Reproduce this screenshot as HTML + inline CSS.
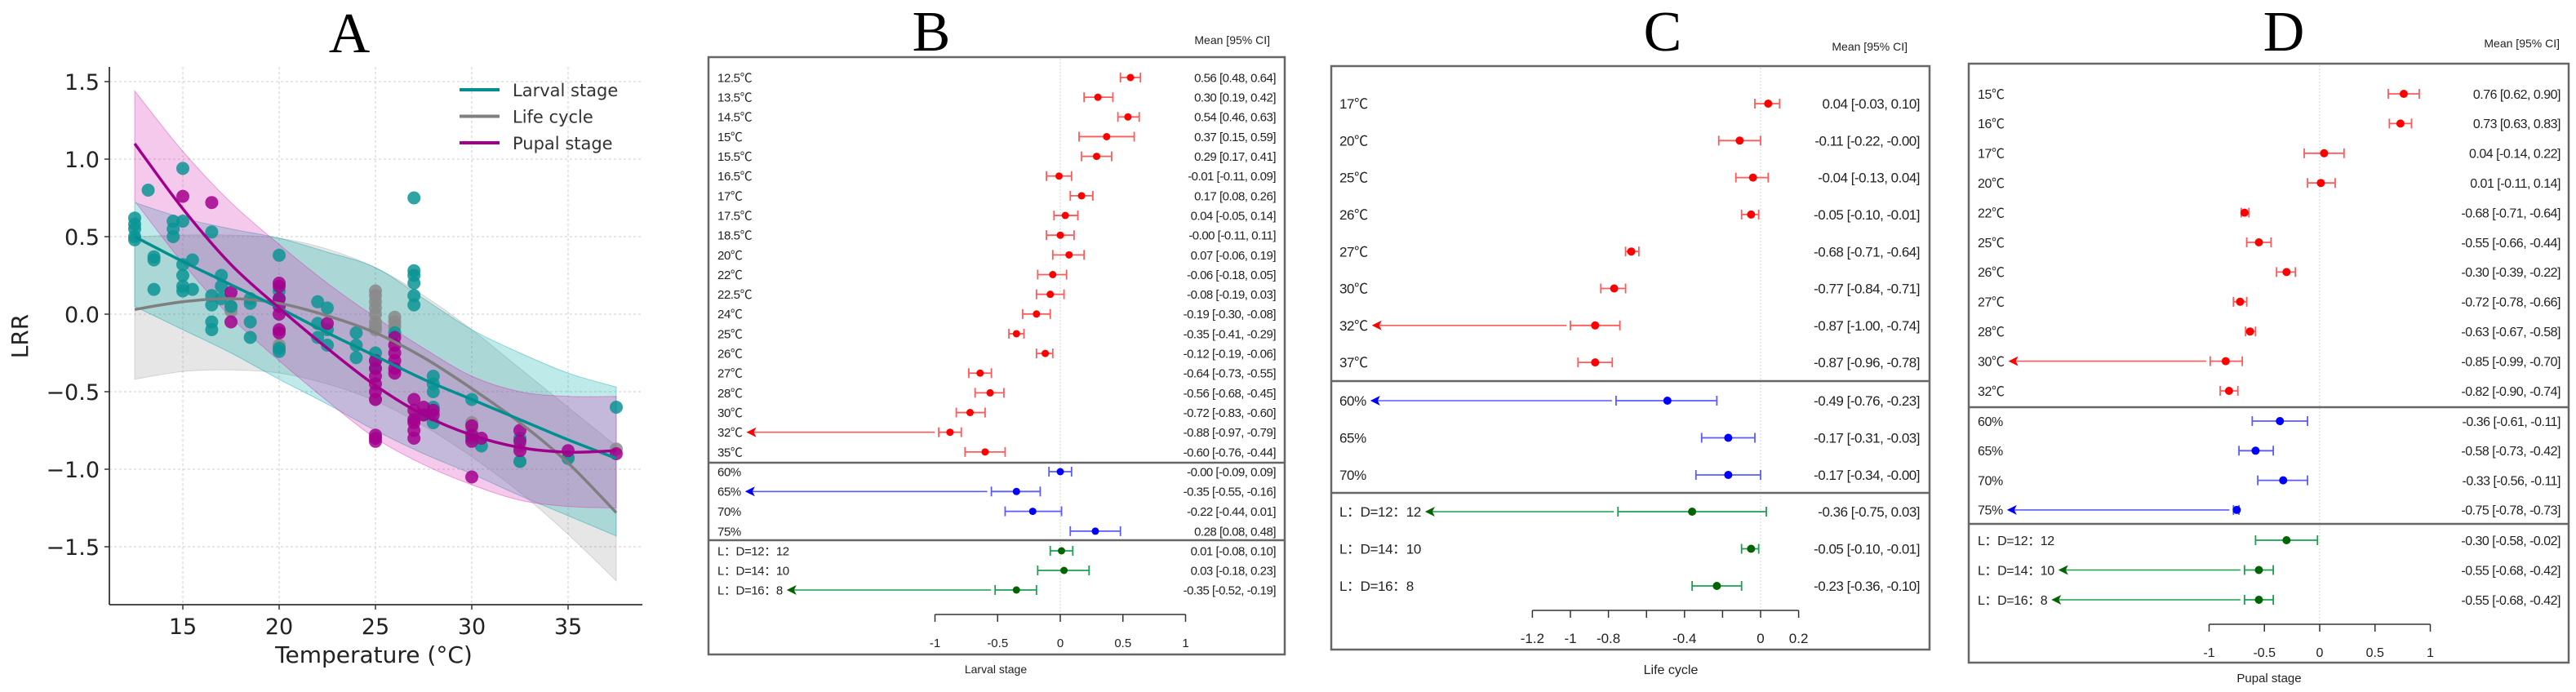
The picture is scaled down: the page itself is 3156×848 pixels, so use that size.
<!DOCTYPE html>
<html><head><meta charset="utf-8"><style>
html,body{margin:0;padding:0;background:#fff;}
svg{display:block;}
</style></head><body>
<svg id="fig" width="3156" height="848" viewBox="0 0 3156 848" xmlns="http://www.w3.org/2000/svg">
<g id="panelA"></g>
<g id="panelB"></g>
<g id="panelC"></g>
<g id="panelD"></g>
</svg>
<script>
// ---------- Panel A data ----------
const aXTicks = [15, 20, 25, 30, 35];
const aYTicks = [1.5, 1.0, 0.5, 0.0, -0.5, -1.0, -1.5];
const aYTickLabels = ["1.5", "1.0", "0.5", "0.0", "\u22120.5", "\u22121.0", "\u22121.5"];
const curveTemps = [12.5, 15, 17.5, 20, 22.5, 25, 27.5, 30, 32.5, 35, 37.5];
const larvalFit = [0.5, 0.34, 0.19, 0.04, -0.12, -0.27, -0.42, -0.55, -0.68, -0.81, -0.93];
const larvalUpper = [0.72, 0.62, 0.55, 0.49, 0.4, 0.3, 0.1, -0.1, -0.25, -0.38, -0.47];
const larvalLower = [0.05, -0.1, -0.25, -0.42, -0.58, -0.75, -0.9, -1.03, -1.17, -1.3, -1.43];
const lifeFit = [0.03, 0.08, 0.1, 0.07, -0.01, -0.12, -0.28, -0.48, -0.7, -0.96, -1.28];
const lifeUpper = [0.5, 0.51, 0.51, 0.49, 0.42, 0.3, 0.12, -0.1, -0.35, -0.6, -0.85];
const lifeLower = [-0.42, -0.37, -0.36, -0.38, -0.45, -0.56, -0.72, -0.92, -1.15, -1.42, -1.72];
const pupalFit = [1.1, 0.68, 0.32, 0.04, -0.22, -0.46, -0.65, -0.78, -0.86, -0.89, -0.88];
const pupalUpper = [1.44, 1.05, 0.72, 0.45, 0.2, -0.02, -0.22, -0.4, -0.5, -0.53, -0.53];
const pupalLower = [0.73, 0.33, -0.02, -0.3, -0.56, -0.8, -0.97, -1.1, -1.2, -1.24, -1.25];
const larvalPtT = [12.5,12.5,12.5,12.5,12.5,13.2,13.5,13.5,13.5,14.5,14.5,14.5,15,15,15,15,15,15,15.5,15.5,16.5,16.5,16.5,16.5,16.5,17,17,17,17.5,18.5,18.5,18.5,18.5,20,20,20,20,20,22,22,22,22.5,22.5,22.5,24,24,24,25,25,25,26,27,27,27,27,27,27,27.5,28,28,28,28,28,30,30,30.5,32.5,32.5,35,37.5];
const larvalPtV = [0.62,0.58,0.55,0.5,0.48,0.8,0.37,0.35,0.16,0.6,0.55,0.5,0.94,0.6,0.32,0.25,0.18,0.15,0.35,0.16,0.53,0.12,0.06,-0.05,-0.1,0.25,0.18,0.1,0.05,0.1,0.07,-0.05,-0.15,0.38,0.15,0.1,-0.22,-0.24,0.08,-0.06,-0.15,0.04,-0.1,-0.2,-0.12,-0.2,-0.28,-0.25,-0.3,-0.35,-0.12,0.75,0.28,0.25,0.2,0.12,0.06,-0.65,-0.4,-0.45,-0.5,-0.6,-0.7,-0.55,-0.8,-0.85,-0.8,-0.95,-0.93,-0.6];
const lifePtT = [17.5,17.5,20,25,25,25,25,25,25,25,25,25,26,26,26,27,30,30,32.5,32.5,35,37.5];
const lifePtV = [0.02,0.05,-0.2,0.15,0.12,0.08,0.04,0,-0.05,-0.08,-0.1,-0.55,-0.02,-0.05,-0.08,-0.68,-0.7,-0.75,-0.85,-0.95,-0.92,-0.87];
const pupalPtT = [15,16.5,17.5,17.5,20,20,20,20,20,20,20,22.5,25,25,25,25,25,25,25,25,25,26,26,26,26,26,26,27,27,27,27,27,27,27.5,27.5,28,28,30,30,30,30,30.5,32.5,32.5,32.5,35,37.5];
const pupalPtV = [0.76,0.72,0.14,-0.05,0.2,0.18,0.1,0.05,0,-0.1,-0.12,-0.06,-0.3,-0.35,-0.4,-0.45,-0.5,-0.55,-0.78,-0.8,-0.82,-0.15,-0.2,-0.25,-0.3,-0.35,-0.38,-0.55,-0.62,-0.68,-0.7,-0.75,-0.8,-0.6,-0.65,-0.62,-0.65,-0.72,-0.78,-0.82,-1.05,-0.8,-0.75,-0.82,-0.88,-0.88,-0.9];

// ---------- Panel B data ----------
const bLabels = ["12.5\u2103","13.5\u2103","14.5\u2103","15\u2103","15.5\u2103","16.5\u2103","17\u2103","17.5\u2103","18.5\u2103","20\u2103","22\u2103","22.5\u2103","24\u2103","25\u2103","26\u2103","27\u2103","28\u2103","30\u2103","32\u2103","35\u2103","60%","65%","70%","75%","L\uFF1AD=12\uFF1A12","L\uFF1AD=14\uFF1A10","L\uFF1AD=16\uFF1A8"];
const bMean = [0.56,0.30,0.54,0.37,0.29,-0.01,0.17,0.04,-0.00,0.07,-0.06,-0.08,-0.19,-0.35,-0.12,-0.64,-0.56,-0.72,-0.88,-0.60,-0.00,-0.35,-0.22,0.28,0.01,0.03,-0.35];
const bLow = [0.48,0.19,0.46,0.15,0.17,-0.11,0.08,-0.05,-0.11,-0.06,-0.18,-0.19,-0.30,-0.41,-0.19,-0.73,-0.68,-0.83,-0.97,-0.76,-0.09,-0.55,-0.44,0.08,-0.08,-0.18,-0.52];
const bHigh = [0.64,0.42,0.63,0.59,0.41,0.09,0.26,0.14,0.11,0.19,0.05,0.03,-0.08,-0.29,-0.06,-0.55,-0.45,-0.60,-0.79,-0.44,0.09,-0.16,0.01,0.48,0.10,0.23,-0.19];
const bGroup = [0,0,0,0,0,0,0,0,0,0,0,0,0,0,0,0,0,0,0,0,1,1,1,1,2,2,2];
const bArrow = [0,0,0,0,0,0,0,0,0,0,0,0,0,0,0,0,0,0,1,0,0,1,0,0,0,0,1];
const bTicks = [-1,-0.5,0,0.5,1];
const bTickLabels = ["-1","-0.5","0","0.5","1"];

// ---------- Panel C data ----------
const cLabels = ["17\u2103","20\u2103","25\u2103","26\u2103","27\u2103","30\u2103","32\u2103","37\u2103","60%","65%","70%","L\uFF1AD=12\uFF1A12","L\uFF1AD=14\uFF1A10","L\uFF1AD=16\uFF1A8"];
const cMean = [0.04,-0.11,-0.04,-0.05,-0.68,-0.77,-0.87,-0.87,-0.49,-0.17,-0.17,-0.36,-0.05,-0.23];
const cLow = [-0.03,-0.22,-0.13,-0.10,-0.71,-0.84,-1.00,-0.96,-0.76,-0.31,-0.34,-0.75,-0.10,-0.36];
const cHigh = [0.10,-0.00,0.04,-0.01,-0.64,-0.71,-0.74,-0.78,-0.23,-0.03,-0.00,0.03,-0.01,-0.10];
const cGroup = [0,0,0,0,0,0,0,0,1,1,1,2,2,2];
const cArrow = [0,0,0,0,0,0,1,0,1,0,0,1,0,0];
const cTicks = [-1.2,-1,-0.8,-0.6,-0.4,-0.2,0,0.2];
const cTickLabels = ["-1.2","-1","-0.8","","-0.4","","0","0.2"];

// ---------- Panel D data ----------
const dLabels = ["15\u2103","16\u2103","17\u2103","20\u2103","22\u2103","25\u2103","26\u2103","27\u2103","28\u2103","30\u2103","32\u2103","60%","65%","70%","75%","L\uFF1AD=12\uFF1A12","L\uFF1AD=14\uFF1A10","L\uFF1AD=16\uFF1A8"];
const dMean = [0.76,0.73,0.04,0.01,-0.68,-0.55,-0.30,-0.72,-0.63,-0.85,-0.82,-0.36,-0.58,-0.33,-0.75,-0.30,-0.55,-0.55];
const dLow = [0.62,0.63,-0.14,-0.11,-0.71,-0.66,-0.39,-0.78,-0.67,-0.99,-0.90,-0.61,-0.73,-0.56,-0.78,-0.58,-0.68,-0.68];
const dHigh = [0.90,0.83,0.22,0.14,-0.64,-0.44,-0.22,-0.66,-0.58,-0.70,-0.74,-0.11,-0.42,-0.11,-0.73,-0.02,-0.42,-0.42];
const dGroup = [0,0,0,0,0,0,0,0,0,0,0,1,1,1,1,2,2,2];
const dArrow = [0,0,0,0,0,0,0,0,0,1,0,0,0,0,1,0,1,1];
const dTicks = [-1,-0.5,0,0.5,1];
const dTickLabels = ["-1","-0.5","0","0.5","1"];

const NS = "http://www.w3.org/2000/svg";
function mk(tag, attrs, parent) {
  const e = document.createElementNS(NS, tag);
  for (const k in attrs) e.setAttribute(k, attrs[k]);
  parent.appendChild(e);
  return e;
}
function fmt(v){ let s=Math.abs(v).toFixed(2); return (v<0||Object.is(v,-0))?"-"+s:s; }

// ---------- Panel A ----------
(function(){
  const g = document.getElementById('panelA');
  const X = t => 224 + (t - 15) * 23.6;
  const Y = v => 385 - v * 190;
  const L = 134, R = 787, T = 82, B = 741;
  const title = mk('text', {x:428, y:64, 'text-anchor':'middle', 'font-family':'Liberation Serif, serif', 'font-size':70, fill:'#000'}, g);
  title.textContent = 'A';
  
  
  aXTicks.forEach(t => {
    const l = mk('line', {x1:X(t), x2:X(t), y1:T, y2:B, stroke:'#ccc', 'stroke-width':1, 'stroke-dasharray':'3,3'}, g);
    
    
    mk('line', {x1:X(t), x2:X(t), y1:B, y2:B+6, stroke:'#333', 'stroke-width':1.5}, g);
    const tx = mk('text', {x:X(t), y:B+36, 'text-anchor':'middle', 'font-family':'DejaVu Sans, sans-serif', 'font-size':27, fill:'#222'}, g);
    tx.textContent = String(t);
    
    
  });
  aYTicks.forEach((v,i) => {
    const l = mk('line', {x1:L, x2:R, y1:Y(v), y2:Y(v), stroke:'#ccc', 'stroke-width':1, 'stroke-dasharray':'3,3'}, g);
    
    
    mk('line', {x1:L-6, x2:L, y1:Y(v), y2:Y(v), stroke:'#333', 'stroke-width':1.5}, g);
    const tx = mk('text', {x:L-12, y:Y(v)+10, 'text-anchor':'end', 'font-family':'DejaVu Sans, sans-serif', 'font-size':27, fill:'#222'}, g);
    tx.textContent = aYTickLabels[i];
    
    
  });
  function smooth(xs, ys){
    const p = xs.map((t,i)=>[X(t),Y(ys[i])]);
    let d = 'M'+p[0][0]+','+p[0][1];
    for (let i=0;i<p.length-1;i++){
      const p0=p[Math.max(0,i-1)], p1=p[i], p2=p[i+1], p3=p[Math.min(p.length-1,i+2)];
      const c1=[p1[0]+(p2[0]-p0[0])/6, p1[1]+(p2[1]-p0[1])/6];
      const c2=[p2[0]-(p3[0]-p1[0])/6, p2[1]-(p3[1]-p1[1])/6];
      d+=' C'+c1[0]+','+c1[1]+' '+c2[0]+','+c2[1]+' '+p2[0]+','+p2[1];
    }
    return d;
  }
  function band(up, lo, fill, stroke, name){
    const top = smooth(curveTemps, up);
    const rt = curveTemps.slice().reverse(), rl = lo.slice().reverse();
    const bot = smooth(rt, rl).replace(/^M/, 'L');
    const p = mk('path', {d: top+' '+bot+' Z', fill: fill, stroke: stroke, 'stroke-width':1}, g);
    
    
  }
  band(lifeUpper, lifeLower, 'rgba(140,140,140,0.22)', 'rgba(140,140,140,0.3)', 'life-cycle-ci-band');
  band(larvalUpper, larvalLower, 'rgba(0,170,170,0.25)', 'rgba(0,160,160,0.4)', 'larval-ci-band');
  band(pupalUpper, pupalLower, 'rgba(215,40,175,0.25)', 'rgba(215,40,175,0.4)', 'pupal-ci-band');
  function pts(ts, vs, col, name){
    ts.forEach((t,i)=>{
      const c = mk('circle', {cx:X(t), cy:Y(vs[i]), r:8, fill:col, 'fill-opacity':0.85}, g);
      
      
    });
  }
  pts(lifePtT, lifePtV, '#8a8a8a', 'life-cycle-point');
  pts(larvalPtT, larvalPtV, '#0c9494', 'larval-point');
  pts(pupalPtT, pupalPtV, '#a3008e', 'pupal-point');
  function line(vs, col, name){
    const p = mk('path', {d: smooth(curveTemps, vs), fill:'none', stroke:col, 'stroke-width':3.5}, g);
    
    
  }
  line(lifeFit, '#7f7f7f', 'life-cycle-fit-line');
  line(larvalFit, '#008f8f', 'larval-fit-line');
  line(pupalFit, '#a0008c', 'pupal-fit-line');
  mk('line', {x1:L, x2:L, y1:T, y2:B, stroke:'#333', 'stroke-width':1.8}, g);
  mk('line', {x1:L, x2:R, y1:B, y2:B, stroke:'#333', 'stroke-width':1.8}, g);
  const yl = mk('text', {x:0, y:0, transform:'translate(34,412) rotate(-90)', 'text-anchor':'middle', 'font-family':'DejaVu Sans, sans-serif', 'font-size':28, fill:'#222'}, g);
  yl.textContent = 'LRR';
  
  
  const xl = mk('text', {x:458, y:812, 'text-anchor':'middle', 'font-family':'DejaVu Sans, sans-serif', 'font-size':28, fill:'#222'}, g);
  xl.textContent = 'Temperature (\u00B0C)';
  
  
  const leg = [['Larval stage','#008f8f'],['Life cycle','#7f7f7f'],['Pupal stage','#a0008c']];
  leg.forEach((e,i)=>{
    const y = 110 + i*32.5;
    const gl = mk('g', {}, g);
    
    
    mk('line', {x1:563, x2:612, y1:y, y2:y, stroke:e[1], 'stroke-width':4}, gl);
    const t = mk('text', {x:628, y:y+8, 'font-family':'DejaVu Sans, sans-serif', 'font-size':21, fill:'#333'}, gl);
    t.textContent = e[0];
  });
})();

// ---------- Forest panels ----------
function forest(gid, cfg, labels, mean, low, high, group, arrow, ticks, tickLabels){
  const g = document.getElementById(gid);
  const X = v => cfg.x0 + v * cfg.unit;
  const colors = [['#ff0000','#ff5a5a'],['#0000ff','#5a5aff'],['#006400','#1aa050']];
  const t = mk('text', {x:cfg.titleX, y:62, 'text-anchor':'middle', 'font-family':'Liberation Serif, serif', 'font-size':70, fill:'#000'}, g);
  t.textContent = cfg.title;
  
  
  const h = mk('text', {x:cfg.headX, y:cfg.headY, 'text-anchor':'end', 'font-family':'Liberation Sans, sans-serif', 'font-size':14, fill:'#222'}, g);
  h.textContent = 'Mean [95% CI]';
  
  
  const [bl,bt,br,bb] = cfg.box;
  const box = mk('rect', {x:bl, y:bt, width:br-bl, height:bb-bt, fill:'none', stroke:'#666', 'stroke-width':2.5}, g);
  
  
  const z = mk('line', {x1:X(0), x2:X(0), y1:bt+2, y2:cfg.axisY, stroke:'#ddd', 'stroke-width':1.2, 'stroke-dasharray':'2,2'}, g);
  
  
  cfg.seps.forEach(sy=>{
    const s = mk('line', {x1:bl, x2:br, y1:sy, y2:sy, stroke:'#666', 'stroke-width':2.5}, g);
    
    
  });
  const counters=[0,0,0];
  labels.forEach((lab,i)=>{
    const gr = group[i];
    const y = cfg.starts[gr] + counters[gr]*cfg.steps[gr];
    counters[gr]++;
    const row = mk('g', {}, g);
    
    
    const lt = mk('text', {x:cfg.labelX, y:y+cfg.fs*0.36, 'font-family':'Liberation Sans, "Noto Sans CJK SC", sans-serif', 'font-size':cfg.fs, fill:'#222', 'letter-spacing':-0.4}, row);
    lt.textContent = lab;
    const c = colors[gr];
    if (arrow[i]){
      const tip = cfg.labelX + lt.getComputedTextLength() + 5;
      const end = X(low[i]) - 5;
      const al = mk('line', {x1:tip+8, x2:end, y1:y, y2:y, stroke:c[1], 'stroke-width':1.6}, row);
      
      
      mk('path', {d:'M'+tip+','+y+' L'+(tip+12)+','+(y-6)+' L'+(tip+9)+','+y+' L'+(tip+12)+','+(y+6)+' Z', fill:c[0]}, row);
    }
    const ci = mk('line', {x1:X(low[i]), x2:X(high[i]), y1:y, y2:y, stroke:c[1], 'stroke-width':1.8}, row);
    
    
    mk('line', {x1:X(low[i]), x2:X(low[i]), y1:y-6, y2:y+6, stroke:c[1], 'stroke-width':1.8}, row);
    mk('line', {x1:X(high[i]), x2:X(high[i]), y1:y-6, y2:y+6, stroke:c[1], 'stroke-width':1.8}, row);
    const dot = mk('circle', {cx:X(mean[i]), cy:y, r:cfg.r, fill:c[0]}, row);
    
    
    const vt = mk('text', {x:cfg.valX, y:y+cfg.fs*0.36, 'text-anchor':'end', 'font-family':'Liberation Sans, sans-serif', 'font-size':cfg.fs, fill:'#222', 'letter-spacing':-0.5}, row);
    vt.textContent = fmt(mean[i])+' ['+fmt(low[i])+', '+(high[i]<0||Object.is(high[i],-0)?'':' ')+fmt(high[i])+']';
  });
  const ax = mk('line', {x1:X(ticks[0]), x2:X(ticks[ticks.length-1]), y1:cfg.axisY, y2:cfg.axisY, stroke:'#333', 'stroke-width':1.5}, g);
  
  
  ticks.forEach((v,i)=>{
    mk('line', {x1:X(v), x2:X(v), y1:cfg.axisY, y2:cfg.axisY+9, stroke:'#333', 'stroke-width':1.5}, g);
    if (tickLabels[i]){
      const tl = mk('text', {x:X(v), y:cfg.axisY+40, 'text-anchor':'middle', 'font-family':'Liberation Sans, sans-serif', 'font-size':cfg.fs, fill:'#222'}, g);
      tl.textContent = tickLabels[i];
      
      
    }
  });
  const xl = mk('text', {x:cfg.xlabX, y:cfg.xlabY, 'text-anchor':'middle', 'font-family':'Liberation Sans, sans-serif', 'font-size':cfg.fs-1, fill:'#222'}, g);
  xl.textContent = cfg.xlab;
  
  
}
forest('panelB', {title:'B', titleX:1141, headX:1556, headY:54, box:[868,70,1574,802], x0:1299, unit:153.5,
  starts:[95,578,675], steps:[24.15,24.3,24], seps:[567,662], axisY:753, labelX:879, valX:1563, fs:15, r:4.5,
  xlab:'Larval stage', xlabX:1220, xlabY:825}, bLabels, bMean, bLow, bHigh, bGroup, bArrow, bTicks, bTickLabels);
forest('panelC', {title:'C', titleX:2037, headX:2337, headY:62, box:[1631,81,2364,796], x0:2157, unit:233,
  starts:[127,491,627], steps:[45.3,45.5,45.5], seps:[467,604], axisY:748, labelX:1641, valX:2352, fs:17, r:5,
  xlab:'Life cycle', xlabX:2047, xlabY:826}, cLabels, cMean, cLow, cHigh, cGroup, cArrow, cTicks, cTickLabels);
forest('panelD', {title:'D', titleX:2798, headX:3136, headY:58, box:[2412,78,3147,812], x0:2842, unit:135.5,
  starts:[115,516,662], steps:[36.4,36.3,36.5], seps:[499,642], axisY:765, labelX:2423, valX:3137, fs:16, r:5,
  xlab:'Pupal stage', xlabX:2780, xlabY:836}, dLabels, dMean, dLow, dHigh, dGroup, dArrow, dTicks, dTickLabels);
</script>
</body></html>
